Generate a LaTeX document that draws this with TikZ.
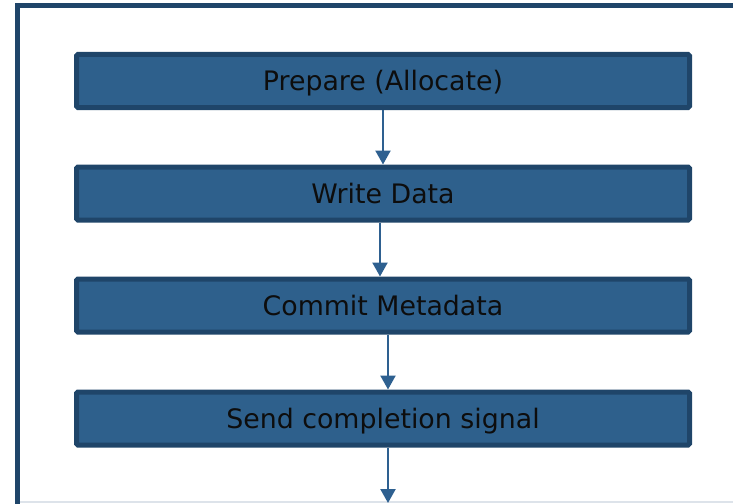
\documentclass[tikz,border=0pt]{standalone}
\usepackage{fontspec}
\setmainfont{DejaVu Sans}
\usetikzlibrary{arrows.meta}
\definecolor{boxfill}{HTML}{2E608C}
\definecolor{boxedge}{HTML}{1F4569}
\definecolor{arrcol}{HTML}{2E6090}
\definecolor{faint}{HTML}{DDE3EA}
\tikzset{
  stepbox/.style={draw=boxedge, fill=boxfill, line width=5pt, rounded corners=1.5pt,
    minimum width=613pt, minimum height=53pt, inner sep=0pt,
    text height=19pt, text depth=0pt,
    font=\fontsize{26.8}{31}\selectfont, text=black!95},
  arr/.style={draw=arrcol, line width=2.3pt, -{Triangle[width=15pt,length=14pt]}},
}
\begin{document}
\begin{tikzpicture}[x=1pt,y=-1pt]
\useasboundingbox (0,0) rectangle (733,503);
% frame
\draw[faint, line width=1.2pt] (17,502) -- (733,502);
\draw[boxedge, line width=5pt] (17.5,520) -- (17.5,5.5) -- (745,5.5);
% boxes
\node[stepbox] (a) at (383,81)    {Prepare (Allocate)};
\node[stepbox] (b) at (383,193.5) {Write Data};
\node[stepbox] (c) at (383,305.5) {Commit Metadata};
\node[stepbox] (d) at (383,418.5) {Send completion signal};
\coordinate (e) at (388,503);
% arrows
\draw[arr] (a.south) -- (b.north);
\draw[arr] ([xshift=-3pt]b.south) -- ([xshift=-3pt]c.north);
\draw[arr] ([xshift=5pt]c.south) -- ([xshift=5pt]d.north);
\draw[arr] ([xshift=5pt]d.south) -- (e);
\end{tikzpicture}
\end{document}
